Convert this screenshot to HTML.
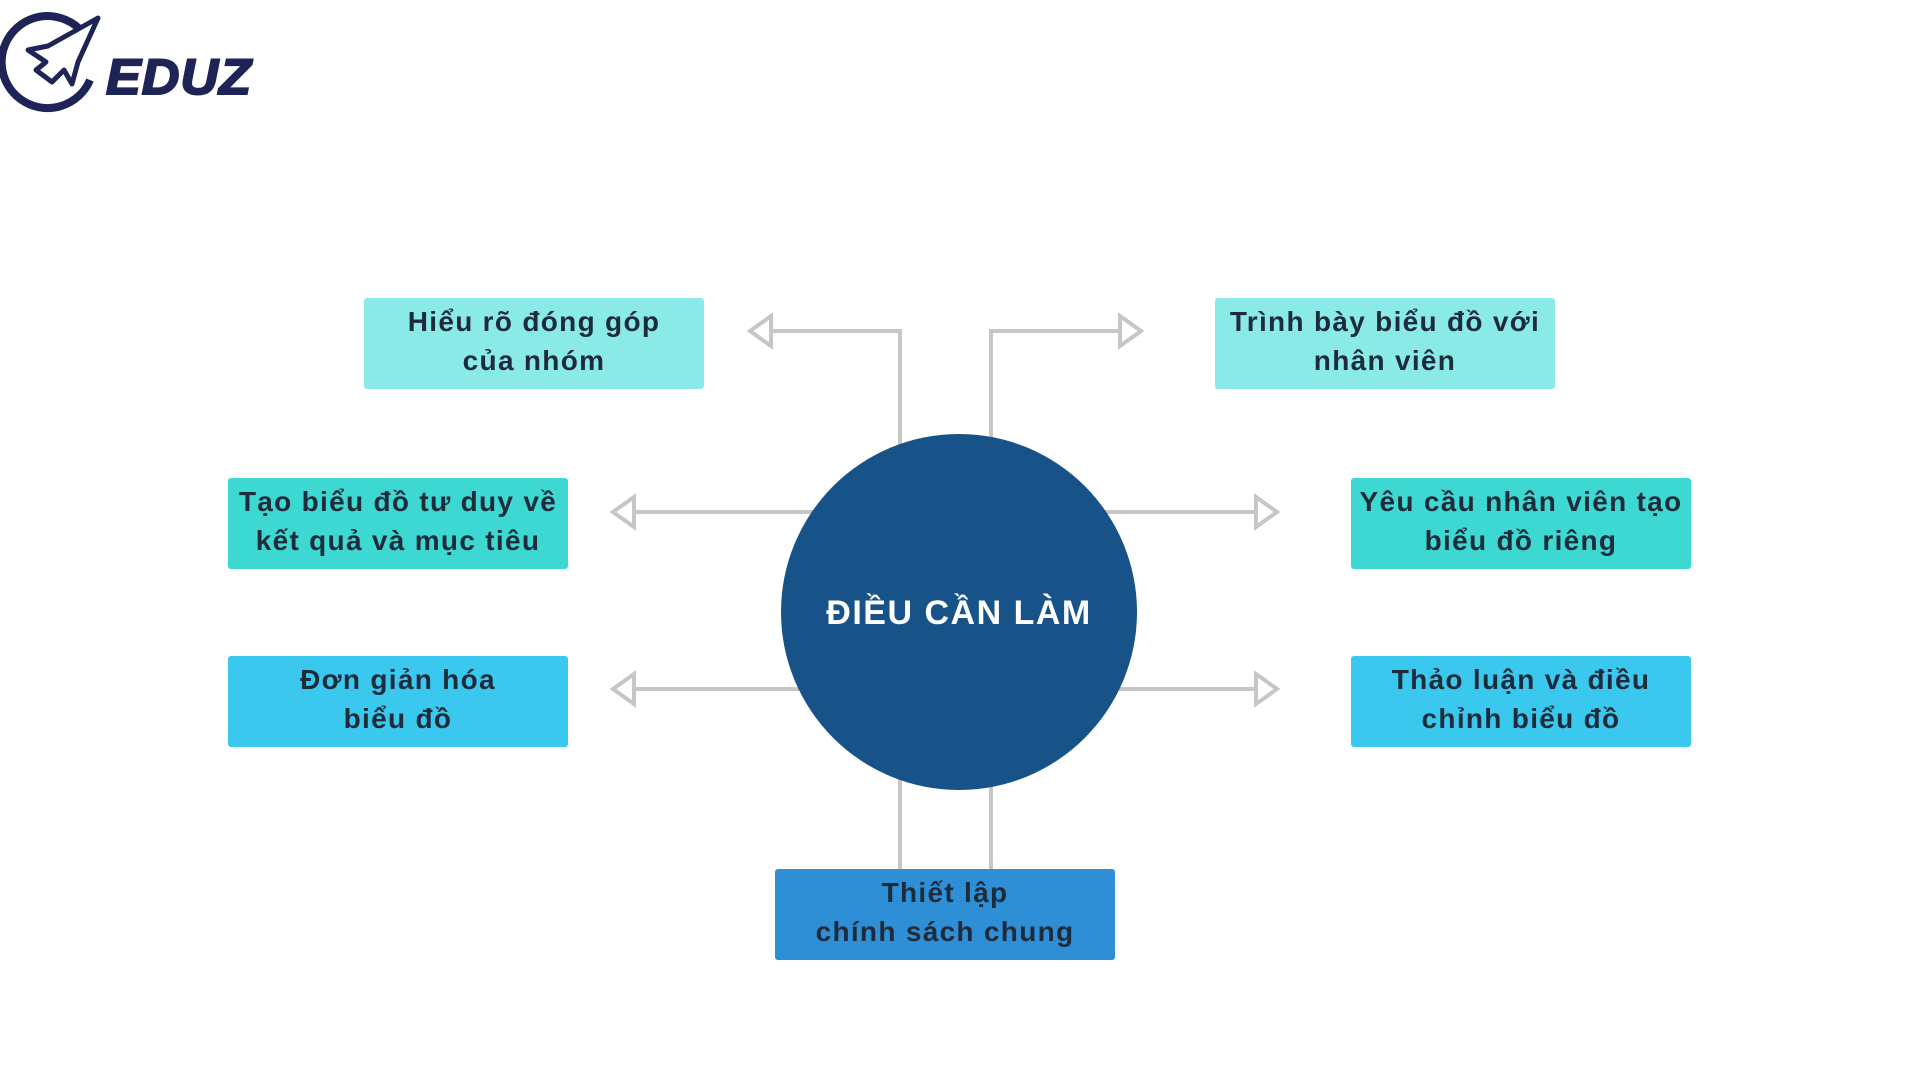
<!DOCTYPE html>
<html><head><meta charset="utf-8"><style>
body{margin:0;width:1920px;height:1080px;background:#fff;position:relative;overflow:hidden;font-family:"Liberation Sans",sans-serif}
.b{position:absolute;width:340px;height:91px;border-radius:3px;display:flex;align-items:center;justify-content:center;text-align:center;font-weight:bold;font-size:28px;line-height:39px;letter-spacing:1.3px;color:#1e2b3a;padding-bottom:6px;box-sizing:border-box}
.c1{background:#8aeae8}.c2{background:#3dd8d2}.c3{background:#3ac8ef}.c4{background:#2e8fd6}
</style></head><body>
<svg width="1920" height="1080" style="position:absolute;left:0;top:0">
<g stroke="#c6c6c6" stroke-width="4" fill="none">
<polyline points="900,445 900,331 771,331"/><polygon points="771,316 771,346 750,331"/>
<polyline points="991,440 991,331 1120,331"/><polygon points="1120,316 1120,346 1141,331"/>
<line x1="814" y1="512" x2="634" y2="512"/><polygon points="634,497 634,527 613,512"/>
<line x1="1104" y1="512" x2="1256" y2="512"/><polygon points="1256,497 1256,527 1277,512"/>
<line x1="800" y1="689" x2="634" y2="689"/><polygon points="634,674 634,704 613,689"/>
<line x1="1118" y1="689" x2="1256" y2="689"/><polygon points="1256,674 1256,704 1277,689"/>
<line x1="900" y1="770" x2="900" y2="869"/><line x1="991" y1="770" x2="991" y2="869"/>
</g>
<circle cx="959" cy="612" r="178" fill="#175389"/>
<text x="959" y="624" text-anchor="middle" fill="#fff" font-family="Liberation Sans,sans-serif" font-weight="bold" font-size="34" letter-spacing="1.5">ĐIỀU CẦN LÀM</text>
<path d="M88,40 A46,46 0 1 0 90,80" fill="none" stroke="#1f2456" stroke-width="8"/>
<path d="M28,50 L48,46 L98,18 L78,62 L72,84 L64,70 L52,82 L36,70 L46,62 Z" fill="#fff" stroke="#1f2456" stroke-width="5" stroke-linejoin="round"/>
<text x="106" y="94" fill="#1f2456" font-family="Liberation Sans,sans-serif" font-weight="900" font-style="italic" font-size="50" letter-spacing="1" textLength="146" lengthAdjust="spacingAndGlyphs" stroke="#1f2456" stroke-width="2">EDUZ</text>
</svg>
<div class="b c1" style="left:364px;top:298px">Hiểu rõ đóng góp<br>của nhóm</div>
<div class="b c1" style="left:1215px;top:298px">Trình bày biểu đồ với<br>nhân viên</div>
<div class="b c2" style="left:228px;top:478px">Tạo biểu đồ tư duy về<br>kết quả và mục tiêu</div>
<div class="b c2" style="left:1351px;top:478px">Yêu cầu nhân viên tạo<br>biểu đồ riêng</div>
<div class="b c3" style="left:228px;top:656px">Đơn giản hóa<br>biểu đồ</div>
<div class="b c3" style="left:1351px;top:656px">Thảo luận và điều<br>chỉnh biểu đồ</div>
<div class="b c4" style="left:775px;top:869px">Thiết lập<br>chính sách chung</div>
</body></html>
